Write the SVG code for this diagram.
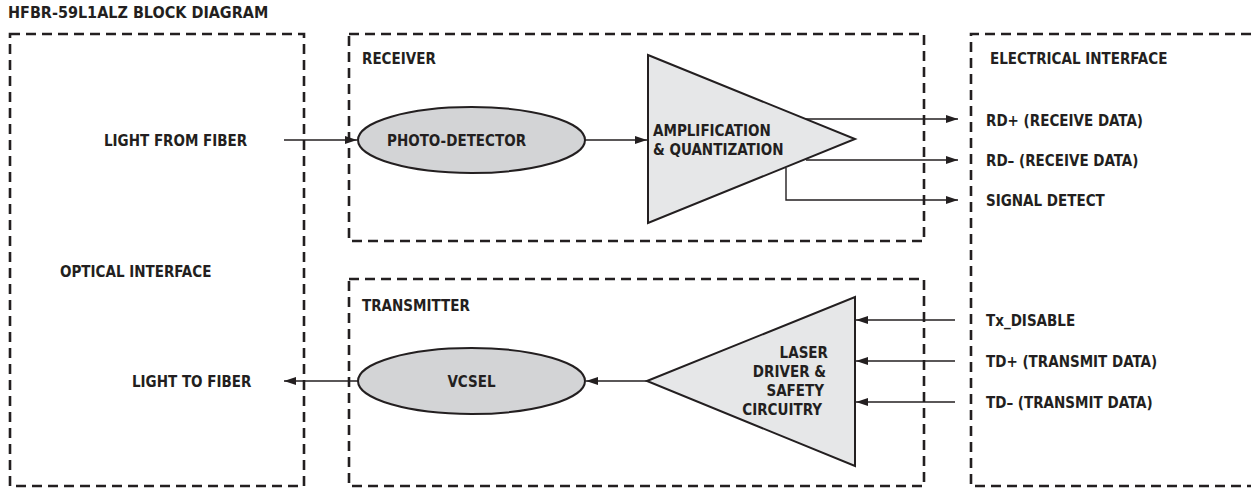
<svg xmlns="http://www.w3.org/2000/svg" width="1251" height="488" viewBox="0 0 1251 488">
<style>
text{font-family:"Liberation Sans Narrow","DejaVu Sans Condensed","Liberation Sans",sans-serif;font-weight:bold;font-size:15px;fill:#231f20}
.box{fill:none;stroke:#231f20;stroke-width:2.6;stroke-dasharray:10 6}
.ell{fill:#d3d4d6;stroke:#231f20;stroke-width:2}
.tri{fill:#e6e7e8;stroke:#231f20;stroke-width:2}
.ln{fill:none;stroke:#231f20;stroke-width:1.4}
</style>
<defs>
<marker id="ah" viewBox="0 0 12 8" refX="12" refY="4" markerWidth="12" markerHeight="8" markerUnits="userSpaceOnUse" orient="auto">
<path d="M0,0 L12,4 L0,8 Z" fill="#231f20"/>
</marker>
</defs>
<rect width="1251" height="488" fill="#fff"/>
<text x="8" y="18" style="font-size:16px">HFBR-59L1ALZ BLOCK DIAGRAM</text>

<g id="optical">
<rect class="box" x="10" y="34" width="294" height="452"/>
<text x="60" y="277">OPTICAL INTERFACE</text>
<text x="104" y="146">LIGHT FROM FIBER</text>
<text x="132" y="387">LIGHT TO FIBER</text>
</g>

<g id="receiver">
<rect class="box" x="349" y="34" width="575" height="207"/>
<text x="362" y="64">RECEIVER</text>
</g>

<g id="transmitter">
<rect class="box" x="349" y="279" width="575" height="207"/>
<text x="362" y="311">TRANSMITTER</text>
</g>

<g id="electrical">
<path class="box" d="M1251,34 H971 V486 H1251"/>
<text x="990" y="64">ELECTRICAL INTERFACE</text>
<text x="986" y="126">RD+ (RECEIVE DATA)</text>
<text x="986" y="166">RD– (RECEIVE DATA)</text>
<text x="986" y="206">SIGNAL DETECT</text>
<text x="986" y="326">Tx_DISABLE</text>
<text x="986" y="367">TD+ (TRANSMIT DATA)</text>
<text x="986" y="408">TD– (TRANSMIT DATA)</text>
</g>

<g id="photodetector">
<ellipse class="ell" cx="471.5" cy="140" rx="113.5" ry="33"/>
<text x="387" y="146">PHOTO-DETECTOR</text>
</g>

<g id="amplifier">
<path class="tri" d="M648,55 L855,139 L648,223 Z"/>
<text x="653" y="136">AMPLIFICATION</text>
<text x="653" y="155">&amp; QUANTIZATION</text>
</g>

<g id="vcsel">
<ellipse class="ell" cx="471.5" cy="381" rx="113.5" ry="33"/>
<text x="471.5" y="387" text-anchor="middle">VCSEL</text>
</g>

<g id="laserdriver">
<path class="tri" d="M647,381 L855,297 L855,466 Z"/>
<text x="828" y="358" text-anchor="end">LASER</text>
<text x="826" y="377" text-anchor="end">DRIVER &amp;</text>
<text x="824" y="396" text-anchor="end">SAFETY</text>
<text x="822" y="415" text-anchor="end">CIRCUITRY</text>
</g>

<g id="connectors">
<line class="ln" x1="284" y1="140" x2="357" y2="140" marker-end="url(#ah)"/>
<line class="ln" x1="585" y1="140" x2="647" y2="140" marker-end="url(#ah)"/>
<line class="ln" x1="806" y1="119" x2="958" y2="119" marker-end="url(#ah)"/>
<line class="ln" x1="806" y1="160" x2="958" y2="160" marker-end="url(#ah)"/>
<path class="ln" d="M786,168 V200 H958" marker-end="url(#ah)"/>
<line class="ln" x1="955" y1="320" x2="856" y2="320" marker-end="url(#ah)"/>
<line class="ln" x1="955" y1="361" x2="856" y2="361" marker-end="url(#ah)"/>
<line class="ln" x1="955" y1="402" x2="856" y2="402" marker-end="url(#ah)"/>
<line class="ln" x1="647" y1="381" x2="586" y2="381" marker-end="url(#ah)"/>
<line class="ln" x1="358" y1="381" x2="284" y2="381" marker-end="url(#ah)"/>
</g>
</svg>
